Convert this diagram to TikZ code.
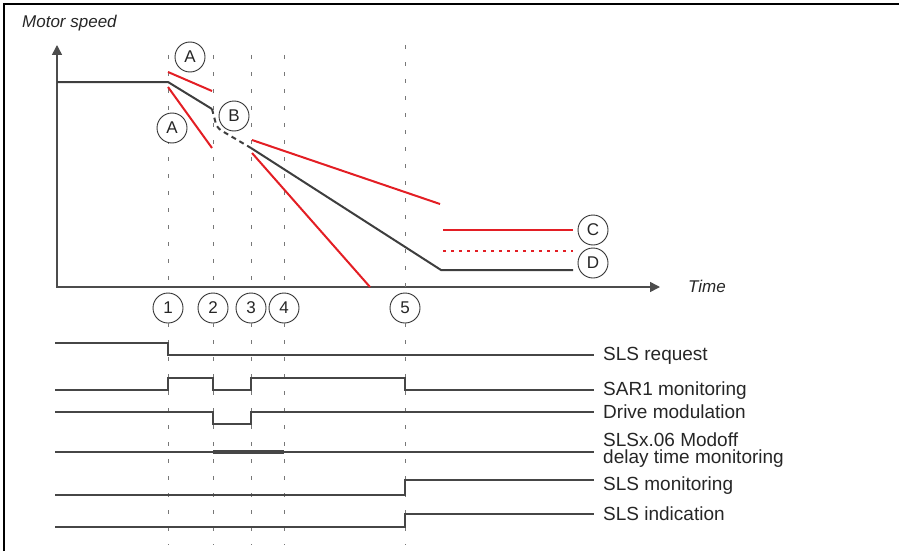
\documentclass[tikz,border=0pt]{standalone}
\usepackage{fontspec}
\setmainfont{Liberation Sans}
\usepackage{xcolor}
\usetikzlibrary{positioning, arrows.meta}

\definecolor{limitred}{RGB}{227,30,36}
\definecolor{curvegray}{RGB}{62,62,62}
\definecolor{guidegray}{RGB}{120,120,120}
\definecolor{signalgray}{RGB}{70,70,70}

\tikzset{
  callout/.style={draw=black!80, line width=0.9pt, fill=white, circle, minimum size=30pt, inner sep=0pt, text=black!85, font=\fontsize{17}{17}\selectfont},
  guide/.style={guidegray, line width=1pt, dash pattern=on 4pt off 13pt},
  speed/.style={curvegray, line width=2pt},
  limit/.style={limitred, line width=2pt},
  signal/.style={signalgray, line width=1.2pt},
  siglabel/.style={anchor=base west, inner xsep=9pt, inner ysep=0pt, align=left, text=black!85, font=\fontsize{19}{16.5}\selectfont},
  axislabel/.style={anchor=base west, inner sep=0pt, text=black!85, font=\fontsize{17}{17}\selectfont\itshape},
  axis/.style={black!70, line width=1.5pt, {Triangle[length=10pt,width=10pt]}-{Triangle[length=10pt,width=10pt]}}
}

\begin{document}
\begin{tikzpicture}[x=1pt, y=-1pt]
\useasboundingbox (0,0) rectangle (901,551);

% Frame
\draw[line width=1.6pt] (4,551) -- (4,4) -- (899,4);

% Axes
\node[axislabel] (ylab) at (22,28) {Motor speed};
\node[axislabel] (xlab) at (688,292) {Time};
\draw[axis] (57,45) -- (57,287) -- (660,287);

% Time markers
\foreach \i/\x/\ytop in {1/168/55, 2/213/55, 3/251/55, 4/284/55, 5/405/45} {
  \node[callout] (t\i) at (\x,308) {\i};
  \draw[guide] (\x,\ytop) -- (t\i.north);
  \draw[guide] (t\i.south) -- (\x,545);
}

% Limits
\draw[limit] (168,72) -- (212,91);
\draw[limit] (168,87) -- (212,148);
\draw[limit] (252,140) -- (440,204);
\draw[limit] (252,153) -- (370,287);

% Motor speed
\draw[speed] (57,82) -- (168,82) -- (212,109);
\draw[speed, dash pattern=on 5pt off 4pt, rounded corners=5pt] (212,109) -- (217,128) -- (251,148);
\draw[speed] (251,148) -- (441,270) -- (573,270);

% Labels A to D
\node[callout] (a1) at (190,57) {A};
\node[callout] (a2) at (172,128) {A};
\node[callout] (b) at (234,116) {B};
\node[callout] (c) at (593,230) {C};
\node[callout] (d) at (593,263) {D};
\draw[limit] (443,230) -- ([xshift=-5pt]c.west);
\draw[limit, dash pattern=on 3pt off 5pt] (443,251) -- ([xshift=-5pt]d.west |- 0,251);

% Signals
\node[siglabel] (req) at (594,360.7) {SLS request};
\node[siglabel] (sar) at (594,395) {SAR1 monitoring};
\node[siglabel] (drv) at (594,418.7) {Drive modulation};
\node[siglabel] (delay) at (594,463) {SLSx.06 Modoff\\delay time monitoring};
\node[siglabel] (smon) at (594,490) {SLS monitoring};
\node[siglabel] (sind) at (594,520.7) {SLS indication};

\draw[signal] (55,343) -- (168,343) -- (168,355) -- (req.west |- 0,355);
\draw[signal] (55,390) -- (168,390) -- (168,378) -- (213,378) -- (213,390) -- (251,390) -- (251,378) -- (405,378) -- (405,390) -- (sar.west |- 0,390);
\draw[signal] (55,412) -- (213,412) -- (213,424) -- (251,424) -- (251,412) -- (drv.west |- 0,412);
\draw[signal] (55,452) -- (delay.west |- 0,452);
\draw[signalgray, line width=4.5pt] (213,452) -- (284,452);
\draw[signal] (55,495) -- (405,495) -- (405,480) -- (smon.west |- 0,480);
\draw[signal] (55,527) -- (405,527) -- (405,514) -- (sind.west |- 0,514);

\end{tikzpicture}
\end{document}
